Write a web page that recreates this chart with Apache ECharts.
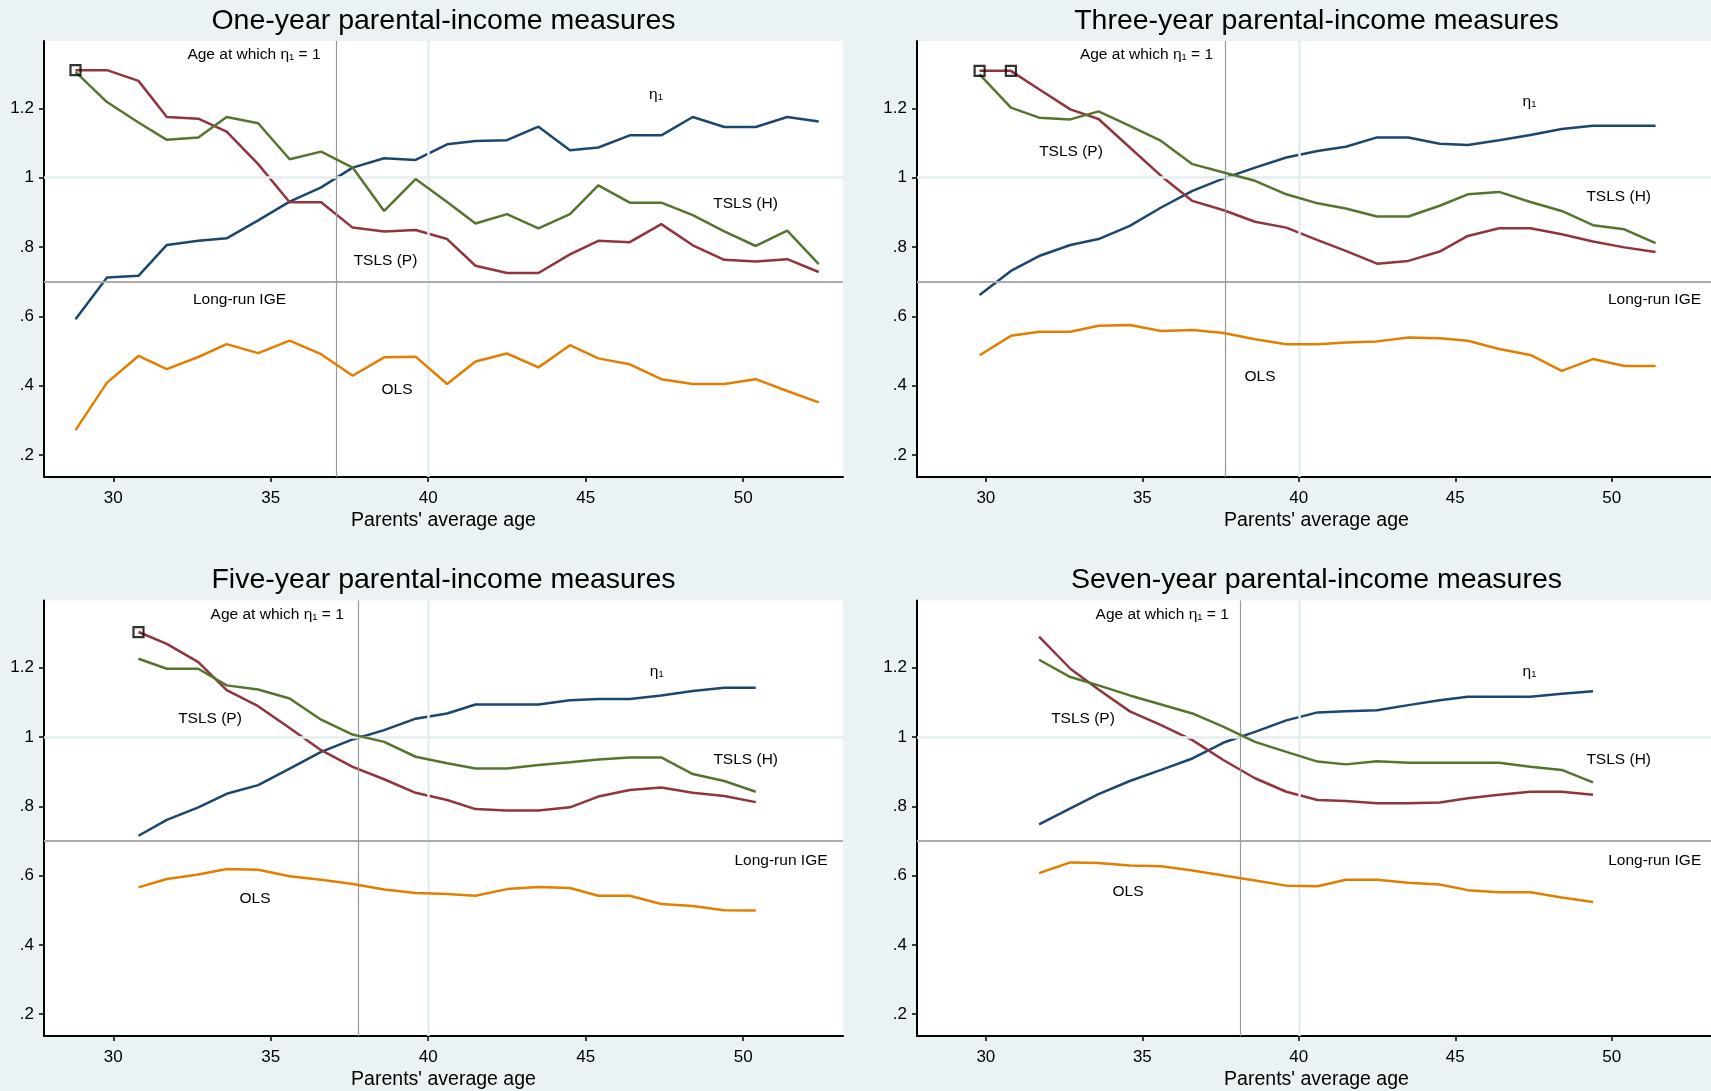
<!DOCTYPE html>
<html>
<head>
<meta charset="utf-8">
<script src="https://cdn.jsdelivr.net/npm/echarts@6/dist/echarts.min.js"></script>
<style>
  html, body { margin: 0; padding: 0; background: #eaf2f3; }
  #chart { width: 1711px; height: 1091px; }
</style>
</head>
<body>
<div id="chart"></div>
<script>
// Parents' average age at each estimation point, per income-measure window
const agesOne   = [28.8, 29.8, 30.8, 31.7, 32.7, 33.6, 34.6, 35.6, 36.6, 37.6, 38.6, 39.6, 40.6, 41.5, 42.5, 43.5, 44.5, 45.4, 46.4, 47.4, 48.4, 49.4, 50.4, 51.4, 52.4];
const agesThree = [29.8, 30.8, 31.7, 32.7, 33.6, 34.6, 35.6, 36.6, 37.6, 38.6, 39.6, 40.6, 41.5, 42.5, 43.5, 44.5, 45.4, 46.4, 47.4, 48.4, 49.4, 50.4, 51.4];
const agesFive  = [30.8, 31.7, 32.7, 33.6, 34.6, 35.6, 36.6, 37.6, 38.6, 39.6, 40.6, 41.5, 42.5, 43.5, 44.5, 45.4, 46.4, 47.4, 48.4, 49.4, 50.4];
const agesSeven = [31.7, 32.7, 33.6, 34.6, 35.6, 36.6, 37.6, 38.6, 39.6, 40.6, 41.5, 42.5, 43.5, 44.5, 45.4, 46.4, 47.4, 48.4, 49.4];

// One-year measures
const etaOne   = [0.592, 0.712, 0.717, 0.806, 0.818, 0.825, 0.877, 0.931, 0.972, 1.029, 1.056, 1.051, 1.096, 1.106, 1.108, 1.147, 1.079, 1.087, 1.122, 1.122, 1.175, 1.146, 1.146, 1.175, 1.162];
const tslsPOne = [1.310, 1.310, 1.279, 1.175, 1.170, 1.133, 1.039, 0.929, 0.929, 0.856, 0.845, 0.849, 0.823, 0.746, 0.725, 0.725, 0.779, 0.818, 0.814, 0.866, 0.805, 0.763, 0.758, 0.765, 0.728];
const tslsHOne = [1.305, 1.218, 1.159, 1.109, 1.116, 1.175, 1.157, 1.053, 1.075, 1.029, 0.904, 0.996, 0.930, 0.868, 0.895, 0.854, 0.895, 0.978, 0.928, 0.928, 0.892, 0.845, 0.803, 0.847, 0.751];
const olsOne   = [0.272, 0.409, 0.486, 0.448, 0.483, 0.520, 0.494, 0.530, 0.491, 0.429, 0.482, 0.484, 0.405, 0.470, 0.493, 0.453, 0.517, 0.479, 0.462, 0.419, 0.405, 0.405, 0.419, 0.385, 0.352];

// Three-year measures
const etaThree   = [0.662, 0.731, 0.774, 0.806, 0.823, 0.861, 0.914, 0.962, 0.998, 1.029, 1.058, 1.077, 1.089, 1.116, 1.116, 1.098, 1.094, 1.108, 1.123, 1.140, 1.150, 1.150, 1.150];
const tslsPThree = [1.308, 1.308, 1.255, 1.197, 1.169, 1.087, 1.005, 0.933, 0.906, 0.873, 0.856, 0.820, 0.789, 0.752, 0.760, 0.787, 0.832, 0.854, 0.854, 0.837, 0.816, 0.799, 0.786];
const tslsHThree = [1.298, 1.202, 1.173, 1.168, 1.191, 1.149, 1.106, 1.039, 1.015, 0.991, 0.952, 0.926, 0.911, 0.888, 0.888, 0.919, 0.952, 0.959, 0.930, 0.904, 0.863, 0.851, 0.811];
const olsThree   = [0.488, 0.544, 0.556, 0.556, 0.573, 0.575, 0.558, 0.561, 0.552, 0.534, 0.520, 0.520, 0.525, 0.528, 0.539, 0.537, 0.530, 0.506, 0.489, 0.443, 0.477, 0.457, 0.457];

// Five-year measures
const etaFive   = [0.715, 0.761, 0.797, 0.836, 0.861, 0.909, 0.957, 0.993, 1.020, 1.053, 1.068, 1.094, 1.094, 1.094, 1.106, 1.110, 1.110, 1.120, 1.133, 1.142, 1.142];
const tslsPFive = [1.303, 1.269, 1.216, 1.135, 1.089, 1.026, 0.962, 0.914, 0.878, 0.839, 0.818, 0.792, 0.788, 0.788, 0.797, 0.828, 0.847, 0.854, 0.839, 0.830, 0.812];
const tslsHFive = [1.226, 1.197, 1.197, 1.149, 1.137, 1.111, 1.050, 1.007, 0.986, 0.943, 0.924, 0.909, 0.909, 0.919, 0.927, 0.935, 0.941, 0.941, 0.893, 0.873, 0.842];
const olsFive   = [0.566, 0.590, 0.603, 0.619, 0.617, 0.598, 0.588, 0.576, 0.560, 0.550, 0.547, 0.542, 0.561, 0.567, 0.564, 0.542, 0.542, 0.518, 0.512, 0.500, 0.499];

// Seven-year measures
const etaSeven   = [0.748, 0.794, 0.835, 0.873, 0.905, 0.938, 0.984, 1.015, 1.048, 1.071, 1.074, 1.077, 1.092, 1.106, 1.116, 1.116, 1.116, 1.125, 1.132];
const tslsPSeven = [1.290, 1.197, 1.137, 1.074, 1.034, 0.991, 0.933, 0.881, 0.842, 0.818, 0.815, 0.809, 0.809, 0.811, 0.823, 0.833, 0.842, 0.842, 0.833];
const tslsHSeven = [1.223, 1.173, 1.149, 1.120, 1.094, 1.068, 1.029, 0.986, 0.957, 0.929, 0.921, 0.930, 0.926, 0.926, 0.926, 0.926, 0.914, 0.905, 0.869];
const olsSeven   = [0.607, 0.638, 0.636, 0.629, 0.627, 0.615, 0.600, 0.586, 0.571, 0.569, 0.588, 0.588, 0.579, 0.574, 0.558, 0.552, 0.552, 0.537, 0.524];

// Points of TSLS (P) shown capped (hollow squares), by index
const capOne = [0];
const capThree = [0, 1];
const capFive = [0];
const capSeven = [];

// Reference values
const longRunIGE = 0.7;
const etaOneAges = [37.07, 37.64, 37.79, 38.13];   // age at which eta_1 = 1, per panel
const panelTitles = [
  'One-year parental-income measures',
  'Three-year parental-income measures',
  'Five-year parental-income measures',
  'Seven-year parental-income measures'
];
const xTicks = [30, 35, 40, 45, 50];
const yTicks = [0.2, 0.4, 0.6, 0.8, 1, 1.2];

const panels = [
  { ages: agesOne,   eta: etaOne,   p: tslsPOne,   h: tslsHOne,   ols: olsOne,   cap: capOne },
  { ages: agesThree, eta: etaThree, p: tslsPThree, h: tslsHThree, ols: olsThree, cap: capThree },
  { ages: agesFive,  eta: etaFive,  p: tslsPFive,  h: tslsHFive,  ols: olsFive,  cap: capFive },
  { ages: agesSeven, eta: etaSeven, p: tslsPSeven, h: tslsHSeven, ols: olsSeven, cap: capSeven }
];

const FONT = '"Liberation Sans", Arial, Helvetica, sans-serif';
const COLORS = { eta: '#1a476f', p: '#90353b', h: '#55752f', ols: '#e37e00' };

// Plot-region layout of the 2x2 panels
const gridBoxes = [
  { left: 44,  top: 41,    width: 799, height: 436 },
  { left: 917, top: 41,    width: 799, height: 436 },
  { left: 44,  top: 600.5, width: 799, height: 435.5 },
  { left: 917, top: 600.5, width: 799, height: 435.5 }
];

// Text annotations within each panel
const annotations = [
  { key: 'age',  text: 'Age at which η₁ = 1' },
  { key: 'eta',  text: 'η₁' },
  { key: 'h',    text: 'TSLS (H)' },
  { key: 'p',    text: 'TSLS (P)' },
  { key: 'ige',  text: 'Long-run IGE' },
  { key: 'ols',  text: 'OLS' }
];
const annotationPos = [
  { age: [254, 55],   eta: [656, 95],  h: [745.5, 204], p: [385.5, 261], ige: [239.5, 300], ols: [397, 390] },
  { age: [1146.5, 55], eta: [1529.5, 102], h: [1618.7, 197], p: [1071, 151.3], ige: [1654.5, 300], ols: [1260, 377] },
  { age: [277.2, 614.3], eta: [656.7, 671.7], h: [745.7, 759.3], p: [210, 718.7], ige: [781, 860.3], ols: [255, 898.7] },
  { age: [1162.2, 614.3], eta: [1529.5, 671.7], h: [1618.7, 759.3], p: [1083, 718.7], ige: [1654.7, 860.3], ols: [1128, 892] }
];

function zip(xs, ys) { return xs.map((x, i) => [x, ys[i]]); }

function fmtY(v) {
  const s = String(+v.toFixed(1));
  return s.startsWith('0') ? s.slice(1) : s;
}

const grid = [], xAxis = [], yAxis = [], series = [], graphic = [];

panels.forEach((pn, i) => {
  const g = gridBoxes[i];
  grid.push({ left: g.left, top: g.top, width: g.width, height: g.height,
              show: true, backgroundColor: '#ffffff', borderWidth: 0, containLabel: false });

  xAxis.push({
    type: 'value', gridIndex: i, min: 27.8, max: 53.17,
    axisLine: { show: true, onZero: false, lineStyle: { color: '#000', width: 2 } },
    axisTick: { show: true, length: 5, customValues: xTicks, lineStyle: { color: '#000', width: 1.5 } },
    axisLabel: { customValues: xTicks, fontSize: 17, color: '#000', fontFamily: FONT, margin: 13 },
    splitLine: { show: false }
  });
  yAxis.push({
    type: 'value', gridIndex: i, min: 0.137, max: 1.394,
    axisLine: { show: true, onZero: false, lineStyle: { color: '#000', width: 2 } },
    axisTick: { show: true, length: 5, customValues: yTicks, lineStyle: { color: '#000', width: 1.5 } },
    axisLabel: { customValues: yTicks, fontSize: 17, color: '#000', fontFamily: FONT, margin: 10,
                 formatter: fmtY },
    splitLine: { show: false }
  });

  // Guide lines: light grid at 1 and 40, long-run IGE, age where eta_1 = 1
  series.push({
    type: 'line', xAxisIndex: i, yAxisIndex: i, data: [], z: 1, silent: true,
    markLine: {
      symbol: ['none', 'none'], silent: true, animation: false,
      label: { show: false },
      emphasis: { disabled: true },
      data: [
        { yAxis: 1,  lineStyle: { color: '#e4eef1', width: 2.5, type: 'solid' } },
        { xAxis: 40, lineStyle: { color: '#e4eef1', width: 2.5, type: 'solid' } },
        { yAxis: longRunIGE, lineStyle: { color: '#ababab', width: 2, type: 'solid' } },
        { xAxis: etaOneAges[i], lineStyle: { color: '#9a9a9a', width: 1.2, type: 'solid' } }
      ]
    }
  });

  const lineSeries = [
    { name: 'η₁', vals: pn.eta, color: COLORS.eta },
    { name: 'TSLS (P)', vals: pn.p, color: COLORS.p },
    { name: 'TSLS (H)', vals: pn.h, color: COLORS.h },
    { name: 'OLS', vals: pn.ols, color: COLORS.ols }
  ];
  lineSeries.forEach((ls, k) => {
    series.push({
      type: 'line', name: ls.name, xAxisIndex: i, yAxisIndex: i,
      data: zip(pn.ages, ls.vals), showSymbol: false, symbol: 'none',
      smooth: false, z: 3 + k, silent: true,
      lineStyle: { color: ls.color, width: 2.5 }
    });
  });

  if (pn.cap.length) {
    series.push({
      type: 'scatter', xAxisIndex: i, yAxisIndex: i, z: 10, silent: true,
      data: pn.cap.map(idx => [pn.ages[idx], pn.p[idx]]),
      symbol: 'rect', symbolSize: 10,
      itemStyle: { color: 'rgba(0,0,0,0)', borderColor: '#000', borderWidth: 2.2 }
    });
  }

  // Panel title and x-axis title
  const cx = g.left + g.width / 2;
  graphic.push({
    type: 'text', x: cx, y: g.top - 20, z: 100, silent: true,
    style: { text: panelTitles[i], fill: '#000', font: '28.5px ' + FONT,
             textAlign: 'center', textVerticalAlign: 'middle', align: 'center', verticalAlign: 'middle' }
  });
  graphic.push({
    type: 'text', x: cx, y: g.top + g.height + 44, z: 100, silent: true,
    style: { text: "Parents' average age", fill: '#000', font: '19.5px ' + FONT,
             textAlign: 'center', textVerticalAlign: 'middle', align: 'center', verticalAlign: 'middle' }
  });

  annotations.forEach(a => {
    const pos = annotationPos[i][a.key];
    graphic.push({
      type: 'text', x: pos[0], y: pos[1], z: 100, silent: true,
      style: { text: a.text, fill: '#000', font: '15.5px ' + FONT,
               textAlign: 'center', textVerticalAlign: 'middle', align: 'center', verticalAlign: 'middle' }
    });
  });
});

const chart = echarts.init(document.getElementById('chart'), null, { renderer: 'canvas' });
chart.setOption({
  backgroundColor: '#eaf2f3',
  animation: false,
  grid, xAxis, yAxis, series, graphic
});
</script>
</body>
</html>
